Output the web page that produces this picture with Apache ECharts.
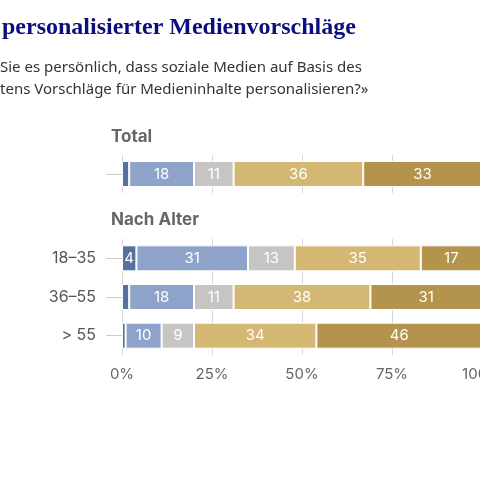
<!DOCTYPE html>
<html><head><meta charset="utf-8">
<script src="https://cdn.jsdelivr.net/npm/echarts@6/dist/echarts.min.js"></script>
<style>html,body{margin:0;background:#fff}#c{width:480px;height:480px}</style>
</head><body><div id="c"></div>
<script>
const SANS = 'Inter, "Noto Sans", sans-serif';
const segNames = ['sehr gut', 'eher gut', 'weiss nicht', 'eher schlecht', 'sehr schlecht'];
const segColors = ['#56709f', '#8ea3c9', '#c6c5c3', '#d4b773', '#b4934c'];
const totalCats = ['Total'];
const totalVals = [[2], [18], [11], [36], [33]];
const ageCats = ['18–35', '36–55', '> 55'];
const ageVals = [[4, 2, 1], [31, 18, 10], [13, 11, 9], [35, 38, 34], [17, 31, 46]];
const ticks = [0, 25, 50, 75, 100];

const chart = echarts.init(document.getElementById('c'));

function xAxis(idx, showLabels) {
    return {
        gridIndex: idx, type: 'value', min: 0, max: 100, interval: 25,
        axisLine: { show: false }, axisTick: { show: false },
        splitLine: { show: true, lineStyle: { color: '#d8d8d8', width: 1 } },
        axisLabel: { show: showLabels, formatter: v => ticks.includes(v) ? v + '%' : '', color: '#666', fontFamily: SANS, fontSize: 15, margin: 12 },
    };
}
function yAxis(idx, cats) {
    return {
        gridIndex: idx, type: 'category', data: cats, inverse: true, show: true,
        axisLine: { show: false },
        axisTick: { show: true, length: 16, alignWithLabel: true, lineStyle: { color: '#ccc' }, interval: 0 },
        axisLabel: { show: idx === 1, color: '#555', fontFamily: SANS, fontSize: 16, margin: 26 },
    };
}
function series(idx, vals) {
    return vals.map((arr, i) => ({
        type: 'bar', name: segNames[i], stack: 's' + idx, xAxisIndex: idx, yAxisIndex: idx,
        data: arr, barWidth: 26,
        itemStyle: { color: segColors[i], borderColor: '#fff', borderWidth: 1 },
        label: { show: true, color: '#fff', fontFamily: SANS, fontSize: 15,
            formatter: p => p.value >= 3 ? p.value : '' },
    }));
}

chart.setOption({
    animation: false,
    grid: [
        { left: 122, right: -2, top: 155, height: 38, outerBoundsMode: 'none', containLabel: false },
        { left: 122, right: -2, top: 239, height: 116, outerBoundsMode: 'none', containLabel: false },
    ],
    xAxis: [xAxis(0, false), xAxis(1, true)],
    yAxis: [yAxis(0, totalCats), yAxis(1, ageCats)],
    series: [...series(0, totalVals), ...series(1, ageVals)],
    graphic: [
        { type: 'text', left: 2, top: 16, style: { text: 'personalisierter Medienvorschläge', font: 'bold 24px "Liberation Serif", serif', fill: '#0b0f7d' } },
        { type: 'text', left: 0, top: 57, style: { text: 'Sie es persönlich, dass soziale Medien auf Basis des\ntens Vorschläge für Medieninhalte personalisieren?»', font: '15px "Noto Sans", sans-serif', fill: '#333', lineHeight: 22 } },
        { type: 'text', left: 111, top: 128, style: { text: 'Total', font: 'bold 17px ' + SANS, fill: '#666' } },
        { type: 'text', left: 111, top: 211, style: { text: 'Nach Alter', font: 'bold 17px ' + SANS, fill: '#666' } },
    ],
});
</script></body></html>
